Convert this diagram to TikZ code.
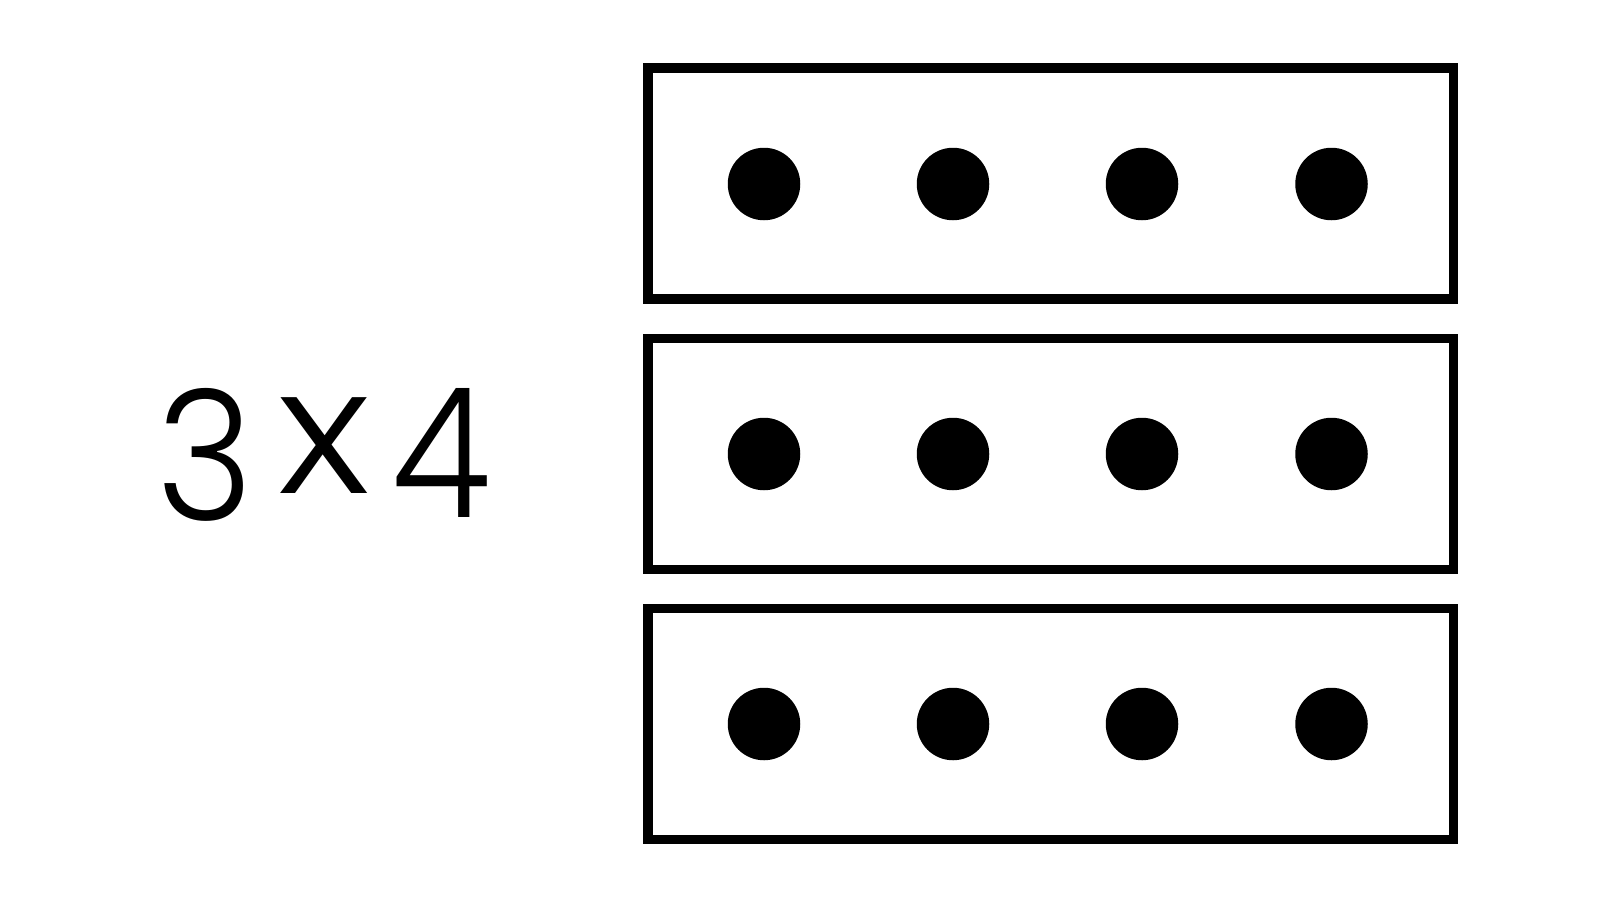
\documentclass[tikz,border=0pt]{standalone}
\usepackage{fontspec}
\setmainfont{Poppins Light}
\begin{document}
\begin{tikzpicture}[x=1pt,y=-1pt,
  rowbox/.style={draw=black,line width=9.5pt,fill=none},
  dot/.style={circle,fill=black,minimum size=72.5pt,inner sep=0pt},
  glyph/.style={inner sep=0pt,anchor=base,font=\fontsize{181}{181}\selectfont}]
\useasboundingbox (0,0) rectangle (1600,900);
\fill[white] (0,0) rectangle (1600,900);
\foreach \r/\y in {1/68,2/338.5,3/608.5}{
  \draw[rowbox] (648,\y) rectangle ++(805.5,231);
}
\foreach \r/\y in {1/184,2/454,3/724}{
  \foreach \c/\x in {1/764,2/953,3/1142,4/1331.5}{
    \node[dot] (d\r\c) at (\x,\y) {};
  }
}
\node[glyph] (n3) at (205,520) {\scalebox{0.92}[1]{3}};
\node[glyph] (nx) at (324,493) {\scalebox{1.12}[0.97]{x}};
\node[glyph] (n4) at (441,517) {\scalebox{0.9}[1]{4}};
\end{tikzpicture}
\end{document}
